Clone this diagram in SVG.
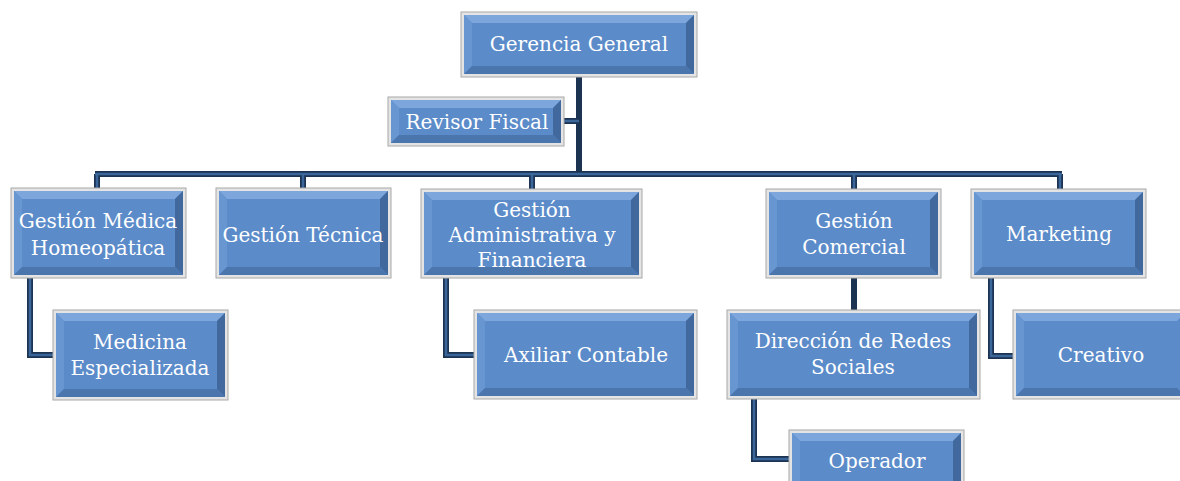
<svg xmlns="http://www.w3.org/2000/svg" width="1180" height="481" viewBox="0 0 1180 481">
<style>
.frame{fill:#e4e4e4;stroke:#a8a8a8;stroke-width:1}
.blue{fill:#5b8bc9}
.hi{fill:#7ca6dc}
.lf{fill:#6896d0}
.sh{fill:#42699d}
.bt{fill:#4b75ad}
.t{font-family:"DejaVu Serif","Liberation Serif",serif;font-size:20px;fill:#ffffff;text-anchor:middle}
.c1{fill:none;stroke:#1c3352;stroke-width:6}
.c2{fill:none;stroke:#3b669a;stroke-width:2.5}
</style>
<g id="connectors">
<path class="c1" d="M95,174 H1062 M97,174 V188 M303,174 V188 M532,174 V189 M854,174 V189 M1060,174 V189 M579,77 V176 M564,121 H579 M30,278 V355 H53 M446,278 V355 H474 M854,278 V310 M991,278 V356 H1013 M754,399 V459 H789"/>
<path class="c2" d="M95,174 H1062 M97,174 V188 M303,174 V188 M532,174 V189 M854,174 V189 M1060,174 V189 M564,121 H579 M30,278 V355 H53 M446,278 V355 H474 M991,278 V356 H1013 M754,399 V459 H789"/>
</g>
<g id="gerencia">
<rect class="frame" x="461" y="12" width="236" height="65"/>
<rect class="blue" x="464" y="15" width="230" height="59"/>
<polygon class="hi" points="464,15 694,15 686,23 472,23"/>
<polygon class="lf" points="464,15 472,23 472,66 464,74"/>
<polygon class="sh" points="694,15 694,74 686,66 686,23"/>
<polygon class="bt" points="464,74 694,74 686,66 472,66"/>
<text class="t" x="579" y="51">Gerencia General</text>
</g>
<g id="revisor">
<rect class="frame" x="388" y="97" width="176" height="49"/>
<rect class="blue" x="391" y="100" width="170" height="43"/>
<polygon class="hi" points="391,100 561,100 553,108 399,108"/>
<polygon class="lf" points="391,100 399,108 399,135 391,143"/>
<polygon class="sh" points="561,100 561,143 553,135 553,108"/>
<polygon class="bt" points="391,143 561,143 553,135 399,135"/>
<text class="t" x="477" y="129">Revisor Fiscal</text>
</g>
<g id="medica">
<rect class="frame" x="11" y="188" width="175" height="90"/>
<rect class="blue" x="14" y="191" width="169" height="84"/>
<polygon class="hi" points="14,191 183,191 175,199 22,199"/>
<polygon class="lf" points="14,191 22,199 22,267 14,275"/>
<polygon class="sh" points="183,191 183,275 175,267 175,199"/>
<polygon class="bt" points="14,275 183,275 175,267 22,267"/>
<text class="t" x="98" y="228">Gestión Médica</text>
<text class="t" x="98" y="255">Homeopática</text>
</g>
<g id="tecnica">
<rect class="frame" x="216" y="188" width="175" height="90"/>
<rect class="blue" x="219" y="191" width="169" height="84"/>
<polygon class="hi" points="219,191 388,191 380,199 227,199"/>
<polygon class="lf" points="219,191 227,199 227,267 219,275"/>
<polygon class="sh" points="388,191 388,275 380,267 380,199"/>
<polygon class="bt" points="219,275 388,275 380,267 227,267"/>
<text class="t" x="303" y="242">Gestión Técnica</text>
</g>
<g id="administrativa">
<rect class="frame" x="421" y="189" width="221" height="89"/>
<rect class="blue" x="424" y="192" width="215" height="83"/>
<polygon class="hi" points="424,192 639,192 631,200 432,200"/>
<polygon class="lf" points="424,192 432,200 432,267 424,275"/>
<polygon class="sh" points="639,192 639,275 631,267 631,200"/>
<polygon class="bt" points="424,275 639,275 631,267 432,267"/>
<text class="t" x="532" y="217">Gestión</text>
<text class="t" x="532" y="242">Administrativa y</text>
<text class="t" x="532" y="267">Financiera</text>
</g>
<g id="comercial">
<rect class="frame" x="766" y="189" width="175" height="89"/>
<rect class="blue" x="769" y="192" width="169" height="83"/>
<polygon class="hi" points="769,192 938,192 930,200 777,200"/>
<polygon class="lf" points="769,192 777,200 777,267 769,275"/>
<polygon class="sh" points="938,192 938,275 930,267 930,200"/>
<polygon class="bt" points="769,275 938,275 930,267 777,267"/>
<text class="t" x="854" y="228">Gestión</text>
<text class="t" x="854" y="254">Comercial</text>
</g>
<g id="marketing">
<rect class="frame" x="971" y="189" width="175" height="89"/>
<rect class="blue" x="974" y="192" width="169" height="83"/>
<polygon class="hi" points="974,192 1143,192 1135,200 982,200"/>
<polygon class="lf" points="974,192 982,200 982,267 974,275"/>
<polygon class="sh" points="1143,192 1143,275 1135,267 1135,200"/>
<polygon class="bt" points="974,275 1143,275 1135,267 982,267"/>
<text class="t" x="1059" y="241">Marketing</text>
</g>
<g id="medicina">
<rect class="frame" x="53" y="310" width="175" height="90"/>
<rect class="blue" x="56" y="313" width="169" height="84"/>
<polygon class="hi" points="56,313 225,313 217,321 64,321"/>
<polygon class="lf" points="56,313 64,321 64,389 56,397"/>
<polygon class="sh" points="225,313 225,397 217,389 217,321"/>
<polygon class="bt" points="56,397 225,397 217,389 64,389"/>
<text class="t" x="140" y="349">Medicina</text>
<text class="t" x="140" y="375">Especializada</text>
</g>
<g id="axiliar">
<rect class="frame" x="474" y="310" width="223" height="89"/>
<rect class="blue" x="477" y="313" width="217" height="83"/>
<polygon class="hi" points="477,313 694,313 686,321 485,321"/>
<polygon class="lf" points="477,313 485,321 485,388 477,396"/>
<polygon class="sh" points="694,313 694,396 686,388 686,321"/>
<polygon class="bt" points="477,396 694,396 686,388 485,388"/>
<text class="t" x="586" y="362">Axiliar Contable</text>
</g>
<g id="direccion">
<rect class="frame" x="727" y="310" width="253" height="89"/>
<rect class="blue" x="730" y="313" width="247" height="83"/>
<polygon class="hi" points="730,313 977,313 969,321 738,321"/>
<polygon class="lf" points="730,313 738,321 738,388 730,396"/>
<polygon class="sh" points="977,313 977,396 969,388 969,321"/>
<polygon class="bt" points="730,396 977,396 969,388 738,388"/>
<text class="t" x="853" y="348">Dirección de Redes</text>
<text class="t" x="853" y="374">Sociales</text>
</g>
<g id="creativo">
<rect class="frame" x="1013" y="310" width="175" height="89"/>
<rect class="blue" x="1016" y="313" width="169" height="83"/>
<polygon class="hi" points="1016,313 1185,313 1177,321 1024,321"/>
<polygon class="lf" points="1016,313 1024,321 1024,388 1016,396"/>
<polygon class="bt" points="1016,396 1185,396 1177,388 1024,388"/>
<text class="t" x="1101" y="362">Creativo</text>
</g>
<g id="operador">
<rect class="frame" x="789" y="430" width="175" height="60"/>
<rect class="blue" x="792" y="433" width="169" height="54"/>
<polygon class="hi" points="792,433 961,433 953,441 800,441"/>
<polygon class="lf" points="792,433 800,441 800,487 792,487"/>
<polygon class="sh" points="961,433 961,487 953,487 953,441"/>
<text class="t" x="877" y="468">Operador</text>
</g>
</svg>
